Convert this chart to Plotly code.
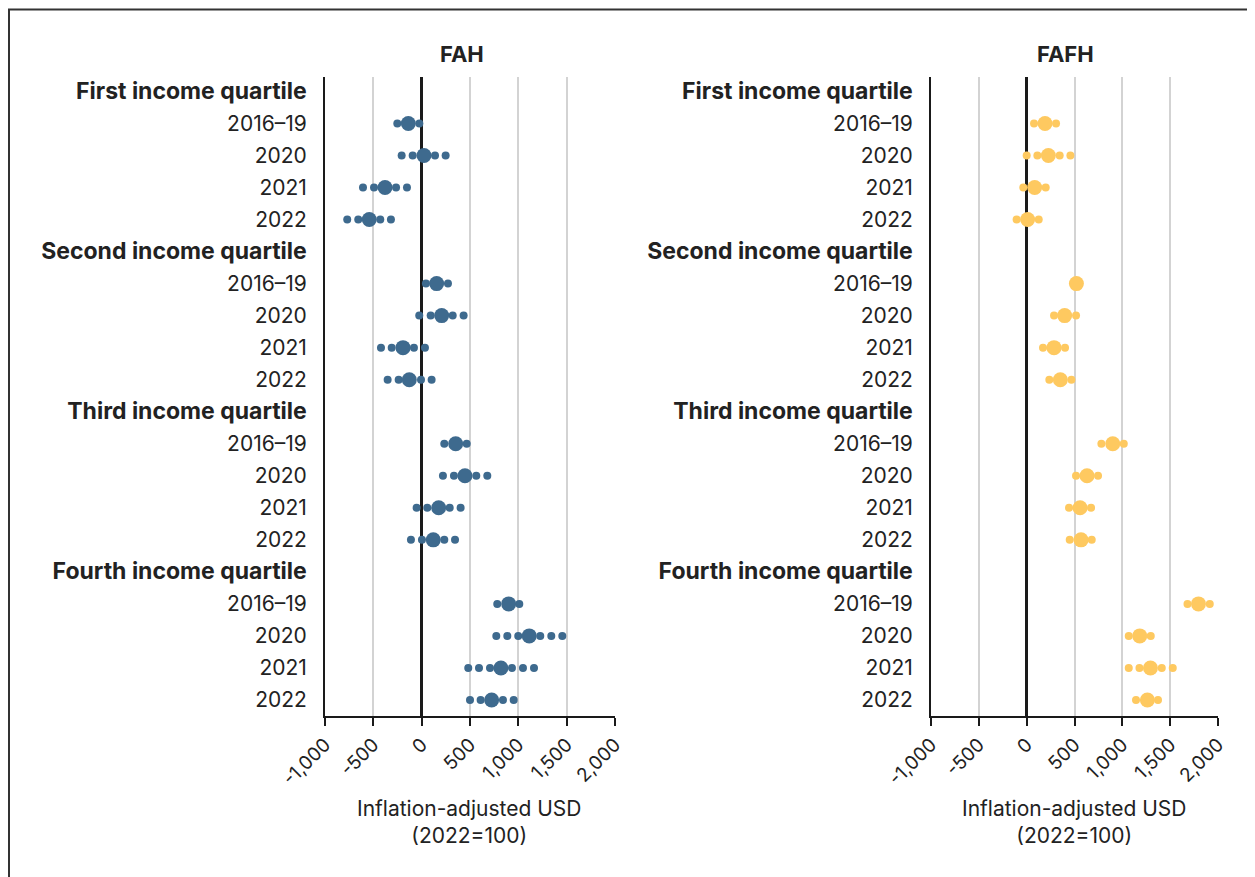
import plotly.graph_objects as go

# page adds an 8px body margin; figure is sized to fit the window exactly
W, H = 1247, 869
OFF = 8  # offset between page and figure coordinates

quartiles = ["First income quartile", "Second income quartile",
             "Third income quartile", "Fourth income quartile"]
years = ["2016\u201319", "2020", "2021", "2022"]

# point estimates (inflation-adjusted USD), row order: quartile x year
fah_est = [-138, 24, -379, -542,
           155, 207, -193, -128,
           352, 448, 176, 120,
           900, 1113, 820, 724]
fafh_est = [192, 227, 84, 10,
            520, 397, 286, 352,
            900, 631, 558, 568,
            1796, 1182, 1294, 1262]

# small dots that make up the dotted confidence band of each row
fah_ci_dots = [[-252, -24], [-207, -93, 138, 248], [-607, -493, -265, -152], [-770, -656, -428, -318],
               [44, 272], [-25, 93, 321, 434], [-421, -310, -80, 34], [-352, -238, -7, 103],
               [234, 466], [220, 334, 565, 679], [-52, 58, 290, 403], [-111, 3, 234, 345],
               [782, 1010], [772, 886, 999, 1227, 1341, 1455], [482, 593, 707, 934, 1048, 1162],
               [500, 610, 841, 952]]
fafh_ci_dots = [[77, 307], [0, 112, 345, 457], [-35, 199], [-105, 126],
                [], [286, 516], [171, 401], [237, 468],
                [781, 1015], [516, 746], [443, 673], [450, 680],
                [1681, 1914], [1067, 1297], [1067, 1179, 1412, 1527], [1143, 1373]]

x_tickvals = [-1000, -500, 0, 500, 1000, 1500, 2000]
x_ticktext = ["-1,000", "-500", "0", "500", "1,000", "1,500", "2,000"]

BLUE = "#3e6a8e"
YELLOW = "#fec960"
FONT = "Inter"
TXT = "#222222"


def px(x):
    return (x - OFF) / W


def py(y):
    return 1 - (y - OFF) / H


# category rows: header + 4 years per quartile
row_labels, row_pos, data_rows = [], [], []
for qi, q in enumerate(quartiles):
    row_labels.append("<b><span style='font-size:23px'>" + q + "</span></b>")
    row_pos.append(qi * 5)
    for yi, y in enumerate(years):
        row_labels.append(y)
        row_pos.append(qi * 5 + yi + 1)
        data_rows.append(qi * 5 + yi + 1)

fig = go.Figure()


def add_panel(est, dots, color, xa, ya):
    sx, sy = [], []
    for r, ds in zip(data_rows, dots):
        for d in ds:
            sx.append(d)
            sy.append(r)
    fig.add_trace(go.Scatter(x=sx, y=sy, mode="markers", xaxis=xa, yaxis=ya,
                             marker=dict(color=color, size=8, line=dict(width=0)),
                             showlegend=False, hoverinfo="x"))
    fig.add_trace(go.Scatter(x=est, y=data_rows, mode="markers", xaxis=xa, yaxis=ya,
                             marker=dict(color=color, size=15, line=dict(width=0)),
                             showlegend=False, hoverinfo="x"))


add_panel(fah_est, fah_ci_dots, BLUE, "x", "y")
add_panel(fafh_est, fafh_ci_dots, YELLOW, "x2", "y2")

ydom = [py(716), py(77)]
xcommon = dict(range=[-1000, 2000], tickvals=x_tickvals, ticktext=x_ticktext,
               tickangle=-45, showgrid=True, gridcolor="#d3d3d3", gridwidth=1.5,
               zeroline=True, zerolinecolor="#1a1a1a", zerolinewidth=2.5,
               showline=True, linecolor="#1a1a1a", linewidth=2,
               ticks="outside", ticklen=8, tickwidth=2, tickcolor="#1a1a1a",
               tickfont=dict(family=FONT, size=19, color=TXT), fixedrange=True,
               automargin=False)
ycommon = dict(range=[19.5, -0.45], tickvals=row_pos, ticktext=row_labels,
               showgrid=False, zeroline=False, showline=True, linecolor="#1a1a1a",
               linewidth=2, ticks="outside", ticklen=12, tickcolor="rgba(0,0,0,0)",
               tickfont=dict(family=FONT, size=21, color=TXT), fixedrange=True,
               automargin=False)

fig.update_layout(
    width=W, height=H, margin=dict(l=0, r=0, t=0, b=0, pad=0),
    paper_bgcolor="white", plot_bgcolor="white",
    font=dict(family=FONT, color=TXT),
    xaxis=dict(domain=[px(325), px(615)], anchor="y", **xcommon),
    yaxis=dict(domain=ydom, anchor="x", **ycommon),
    xaxis2=dict(domain=[px(931), px(1218)], anchor="y2", **xcommon),
    yaxis2=dict(domain=ydom, anchor="x2", **ycommon),
)

annots = []
for txt, cx in [("<b>FAH</b>", 462), ("<b>FAFH</b>", 1065)]:
    annots.append(dict(text=txt, x=px(cx), y=py(54), xref="paper", yref="paper",
                       showarrow=False, xanchor="center", yanchor="middle",
                       font=dict(family=FONT, size=22, color=TXT)))
for cx in [469, 1074]:
    annots.append(dict(text="Inflation-adjusted USD<br>(2022=100)", x=px(cx), y=py(822),
                       xref="paper", yref="paper", showarrow=False,
                       xanchor="center", yanchor="middle",
                       font=dict(family=FONT, size=21, color=TXT)))
fig.update_layout(annotations=annots)

# outer frame (top edge kept just inside the figure)
fig.add_shape(type="rect", xref="paper", yref="paper",
              x0=px(9), x1=1.05, y0=-0.05, y1=py(9.5),
              line=dict(color="#333333", width=2), fillcolor="rgba(0,0,0,0)", layer="below")

fig.write_html("out.html")
